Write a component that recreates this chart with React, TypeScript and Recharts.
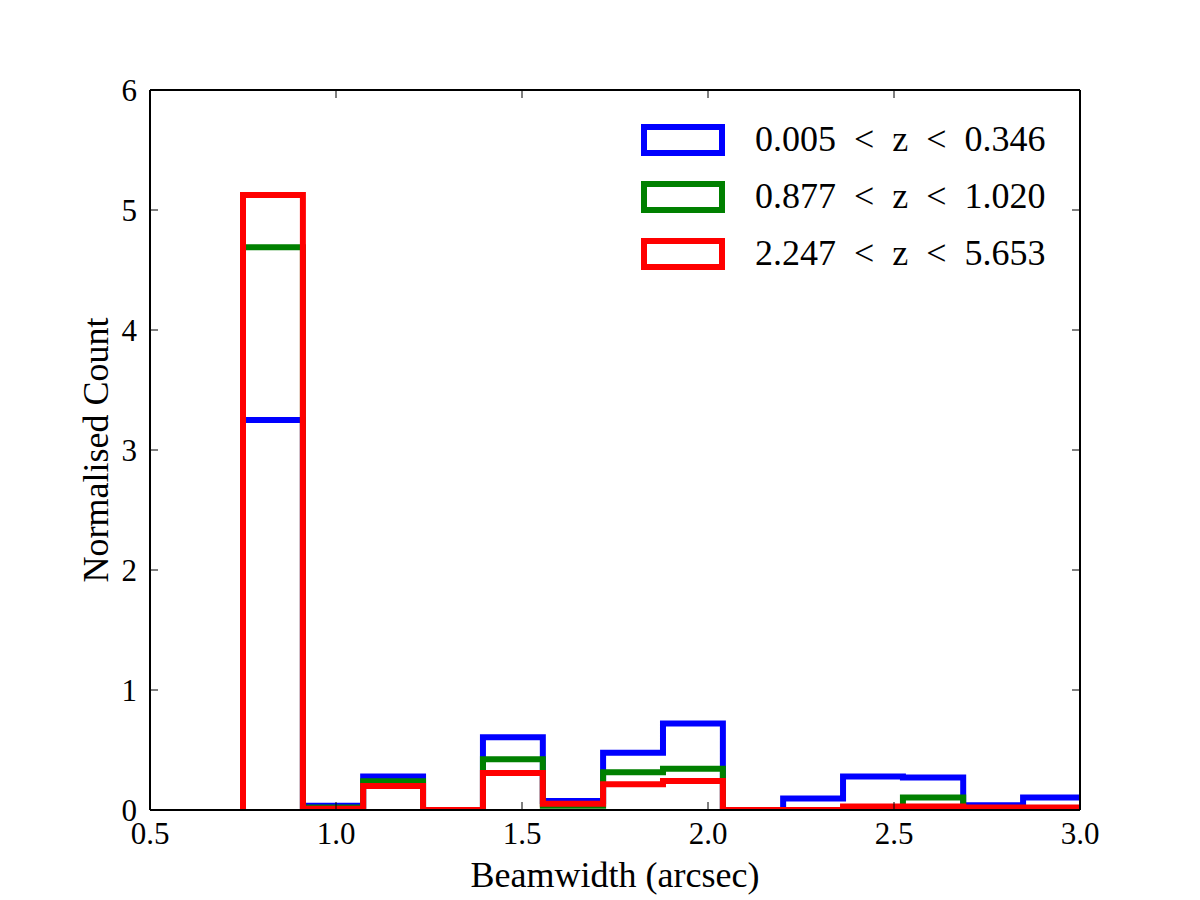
import React from 'react';
import { LineChart, Line, XAxis, YAxis, Legend } from 'recharts';

// Histogram bin edges (arcsec)
const binEdges = [0.75, 0.911, 1.073, 1.234, 1.395, 1.556, 1.718, 1.879, 2.04, 2.202, 2.363, 2.524, 2.686, 2.847, 3.008];

// Normalised counts per bin for each redshift slice
const lowZCounts = [3.25, 0.035, 0.28, 0, 0.606, 0.075, 0.478, 0.72, 0, 0.095, 0.28, 0.27, 0.04, 0.105];
const midZCounts = [4.69, 0.02, 0.24, 0, 0.422, 0.035, 0.314, 0.344, 0, 0, 0, 0.105, 0, 0];
const highZCounts = [5.125, 0.01, 0.2, 0, 0.308, 0.053, 0.214, 0.242, 0, 0, 0.03, 0.03, 0.02, 0.02];

const seriesNames = [
  '0.005\u2002<\u2002z\u2002<\u20020.346',
  '0.877\u2002<\u2002z\u2002<\u20021.020',
  '2.247\u2002<\u2002z\u2002<\u20025.653',
];

const xTicks = [0.5, 1.0, 1.5, 2.0, 2.5, 3.0];
const yTicks = [0, 1, 2, 3, 4, 5, 6];

const FONT = "'Liberation Serif', 'Times New Roman', serif";

// Outline of a step histogram: up from zero, across each bin, down at the end
function stepOutline(values: number[]) {
  const pts: { x: number; y: number }[] = [{ x: binEdges[0], y: 0 }];
  values.forEach((v, i) => {
    pts.push({ x: binEdges[i], y: v });
    pts.push({ x: binEdges[i + 1], y: v });
  });
  pts.push({ x: binEdges[values.length], y: 0 });
  return pts;
}

const lowZData = stepOutline(lowZCounts);
const midZData = stepOutline(midZCounts);
const highZData = stepOutline(highZCounts);

const tickStyle = { fill: '#000', fontSize: 31, fontFamily: FONT };
const axisLineStyle = { stroke: '#000', strokeWidth: 2 };
const tickLineStyle = { stroke: '#000', strokeWidth: 1 };

function renderLegend(props: any) {
  const { payload } = props;
  return (
    <div>
      {(payload || []).map((entry: any) => (
        <div key={entry.value} style={{ display: 'flex', alignItems: 'center', height: 57 }}>
          <div style={{ width: 72, height: 20, border: `6px solid ${entry.color}` }} />
          <span
            style={{
              marginLeft: 30,
              fontSize: 36,
              fontFamily: FONT,
              color: '#000',
              whiteSpace: 'pre',
              lineHeight: '57px',
            }}
          >
            {entry.value}
          </span>
        </div>
      ))}
    </div>
  );
}

export default function App() {
  return (
    <div style={{ position: 'absolute', left: 0, top: 0, width: 1200, height: 900, background: '#fff' }}>
      <LineChart width={1200} height={900} margin={{ top: 0, right: 0, bottom: 0, left: 0 }}>
        <XAxis
          xAxisId={0}
          type="number"
          dataKey="x"
          domain={[0.5, 3.0]}
          allowDataOverflow
          ticks={xTicks}
          tickFormatter={(v: number) => v.toFixed(1)}
          height={90}
          tick={tickStyle}
          tickSize={-8}
          tickMargin={20}
          axisLine={axisLineStyle}
          tickLine={tickLineStyle}
          label={{
            value: 'Beamwidth (arcsec)',
            position: 'insideBottom',
            offset: 13,
            style: { fill: '#000', fontSize: 36, fontFamily: FONT },
          }}
        />
        <XAxis
          xAxisId="top"
          orientation="top"
          type="number"
          dataKey="x"
          domain={[0.5, 3.0]}
          allowDataOverflow
          ticks={xTicks}
          tickFormatter={() => ''}
          height={90}
          tickSize={-8}
          axisLine={axisLineStyle}
          tickLine={tickLineStyle}
        />
        <YAxis
          yAxisId={0}
          type="number"
          domain={[0, 6]}
          allowDataOverflow
          ticks={yTicks}
          width={150}
          tick={tickStyle}
          tickSize={-8}
          tickMargin={21}
          axisLine={axisLineStyle}
          tickLine={tickLineStyle}
          label={{
            value: 'Normalised Count',
            content: () => (
              <text
                x={108}
                y={450}
                transform="rotate(-90 108 450)"
                textAnchor="middle"
                fill="#000"
                fontSize={36}
                fontFamily={FONT}
              >
                Normalised Count
              </text>
            ),
          }}
        />
        <YAxis
          yAxisId="right"
          orientation="right"
          type="number"
          domain={[0, 6]}
          allowDataOverflow
          ticks={yTicks}
          tickFormatter={() => ''}
          width={120}
          tickSize={-8}
          axisLine={axisLineStyle}
          tickLine={tickLineStyle}
        />
        <Line
          data={lowZData}
          dataKey="y"
          name={seriesNames[0]}
          type="linear"
          stroke="#0000ff"
          strokeWidth={6}
          strokeLinejoin="miter"
          strokeLinecap="butt"
          dot={false}
          activeDot={false}
          isAnimationActive={false}
        />
        <Line
          data={midZData}
          dataKey="y"
          name={seriesNames[1]}
          type="linear"
          stroke="#008000"
          strokeWidth={6}
          strokeLinejoin="miter"
          strokeLinecap="butt"
          dot={false}
          activeDot={false}
          isAnimationActive={false}
        />
        <Line
          data={highZData}
          dataKey="y"
          name={seriesNames[2]}
          type="linear"
          stroke="#ff0000"
          strokeWidth={6}
          strokeLinejoin="miter"
          strokeLinecap="butt"
          dot={false}
          activeDot={false}
          isAnimationActive={false}
        />
        <Legend
          layout="vertical"
          align="center"
          verticalAlign="middle"
          wrapperStyle={{ position: 'absolute', left: 641, top: 111, width: 'auto', height: 'auto' }}
          content={renderLegend}
        />
      </LineChart>
    </div>
  );
}
